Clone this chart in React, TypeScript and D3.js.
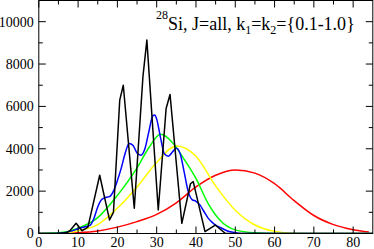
import React from 'react';
import * as d3 from 'd3';

// chart values
const blackX = [0, 5, 7, 8, 9.5, 11, 12.5, 15.5, 16.5, 18, 19, 20.6, 21.5, 24.3, 26.5, 27.5, 30.4, 32.4, 33.4, 36.4, 38.6, 39.3, 42.3, 44.9, 47.5, 85];
const blackY = [0, 0, 30, 150, 480, 130, 300, 2750, 1900, 640, 1000, 6300, 7000, 1190, 7400, 9130, 1110, 5900, 6560, 480, 2350, 2450, 90, 400, 0, 0];

const blueX = [0, 4, 6, 8, 10, 12, 13, 14, 15, 16, 17, 18, 19, 20, 21, 22, 23, 24, 25, 26, 27, 28, 29, 29.5, 30, 31, 32, 33, 34, 35, 36, 37, 38, 39, 40, 41, 42, 43, 44, 45, 46, 48, 50, 52, 85];
const blueY = [0, 0, 20, 100, 220, 330, 380, 700, 1250, 1600, 1700, 1740, 2000, 2500, 3100, 3800, 4250, 4150, 3800, 3700, 4000, 4800, 5550, 5600, 5400, 4500, 3750, 3650, 3850, 4030, 3750, 2900, 2000, 1600, 1520, 1350, 1050, 750, 550, 400, 300, 120, 40, 0, 0];

const greenX = [0, 5, 10, 15, 20, 25, 28, 31, 34, 37, 40, 43, 46, 50, 55, 60, 85];
const greenY = [0, 30, 250, 750, 1800, 3100, 4050, 4680, 4300, 3500, 2600, 1450, 650, 170, 30, 0, 0];

const yellowX = [0, 5, 10, 15, 20, 25, 30, 35, 40, 45, 50, 55, 60, 65, 70, 85];
const yellowY = [0, 10, 130, 420, 1200, 2200, 3350, 4130, 3650, 2250, 1100, 400, 100, 10, 0, 0];

const redX = [0, 5, 10, 15, 20, 25, 30, 35, 40, 45, 50, 55, 60, 65, 70, 75, 80, 84];
const redY = [0, 10, 40, 120, 300, 560, 900, 1450, 2200, 2750, 3000, 2850, 2350, 1550, 850, 420, 180, 70];

const xTicks = [0, 10, 20, 30, 40, 50, 60, 70, 80];
const xMinor = [5, 15, 25, 35, 45, 55, 65, 75];
const yTicks = [0, 2000, 4000, 6000, 8000, 10000];
const yMinor = [1000, 3000, 5000, 7000, 9000];

const W = 374;
const H = 249;
const left = 38.8, right = 372.8, top = 0.5, bottom = 233.5;

const series = [
  { xs: redX, ys: redY, color: '#ff0000', smooth: true },
  { xs: yellowX, ys: yellowY, color: '#ffff00', smooth: true },
  { xs: greenX, ys: greenY, color: '#00ff00', smooth: true },
  { xs: blueX, ys: blueY, color: '#0000ff', smooth: true },
  { xs: blackX, ys: blackY, color: '#000000', smooth: false },
];

const serif = { fontFamily: "'Liberation Serif', 'DejaVu Serif', serif" };

export default function App() {
  const x = d3.scaleLinear().domain([0, 85]).range([left, right]);
  const y = d3.scaleLinear().domain([0, 11000]).range([bottom, top]);

  const lineFor = (smooth: boolean) =>
    d3.line<[number, number]>()
      .x(d => x(d[0]))
      .y(d => y(d[1]))
      .curve(smooth ? d3.curveMonotoneX : d3.curveLinear);

  return (
    <svg width={W} height={H} style={{ position: 'absolute', left: 0, top: 0, background: '#fff' }}>
      <defs>
        <clipPath id="plot">
          <rect x={left} y={top} width={right - left} height={bottom - top} />
        </clipPath>
      </defs>
      <g clipPath="url(#plot)">
        {series.map((s, i) => (
          <path key={i}
            d={lineFor(s.smooth)(s.xs.map((v, j) => [v, s.ys[j]] as [number, number])) || ''}
            fill="none" stroke={s.color} strokeWidth={1.5} strokeLinejoin="round" />
        ))}
      </g>
      <rect x={left} y={top} width={right - left} height={bottom - top} fill="none" stroke="#000" strokeWidth={1} />
      {xTicks.map(t => (
        <g key={'x' + t}>
          <line x1={x(t)} x2={x(t)} y1={bottom} y2={bottom - 7} stroke="#000" />
          <line x1={x(t)} x2={x(t)} y1={top} y2={top + 7} stroke="#000" />
          <text x={x(t)} y={247} textAnchor="middle" style={serif} fontSize={14}>{t}</text>
        </g>
      ))}
      {xMinor.map(t => (
        <g key={'xm' + t}>
          <line x1={x(t)} x2={x(t)} y1={bottom} y2={bottom - 4} stroke="#000" />
          <line x1={x(t)} x2={x(t)} y1={top} y2={top + 4} stroke="#000" />
        </g>
      ))}
      {yTicks.map(t => (
        <g key={'y' + t}>
          <line x1={left} x2={left + 7} y1={y(t)} y2={y(t)} stroke="#000" />
          <line x1={right} x2={right - 7} y1={y(t)} y2={y(t)} stroke="#000" />
          <text x={left - 5} y={y(t)} dy="0.35em" textAnchor="end" style={serif} fontSize={14}>{t}</text>
        </g>
      ))}
      {yMinor.map(t => (
        <g key={'ym' + t}>
          <line x1={left} x2={left + 4} y1={y(t)} y2={y(t)} stroke="#000" />
          <line x1={right} x2={right - 4} y1={y(t)} y2={y(t)} stroke="#000" />
        </g>
      ))}
      <text x={156} y={30} style={serif} fontSize={18}>
        <tspan fontSize={12} dy={-11}>28</tspan>
        <tspan dy={11}>Si, J=all, k</tspan>
        <tspan fontSize={12} dy={4}>1</tspan>
        <tspan dy={-4}>=k</tspan>
        <tspan fontSize={12} dy={4}>2</tspan>
        <tspan dy={-4}>={'{'}0.1-1.0{'}'}</tspan>
      </text>
    </svg>
  );
}
